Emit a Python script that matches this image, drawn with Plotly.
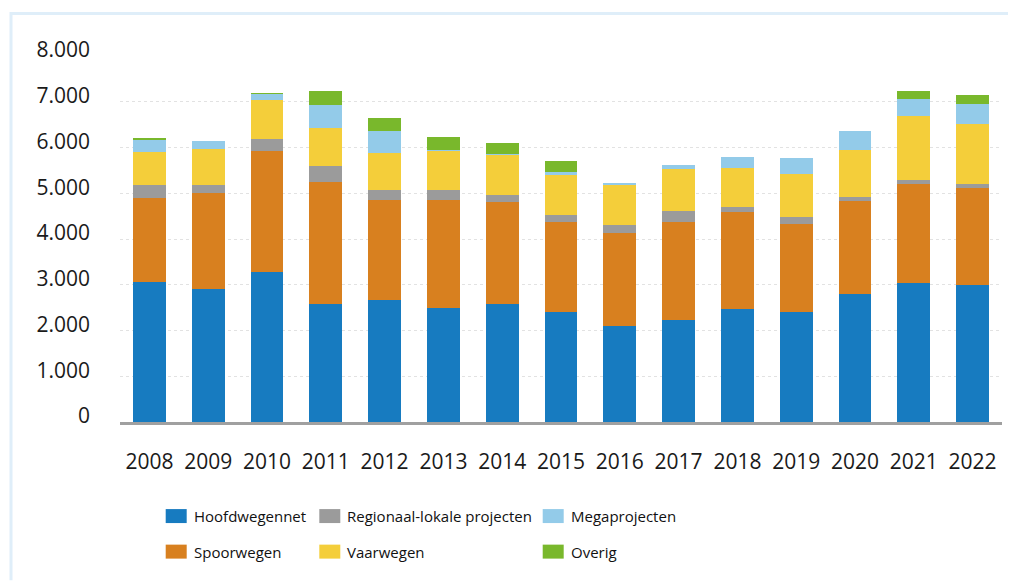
import plotly.graph_objects as go

years = ["2008", "2009", "2010", "2011", "2012", "2013", "2014", "2015",
         "2016", "2017", "2018", "2019", "2020", "2021", "2022"]
hoofdwegennet = [3070, 2910, 3285, 2590, 2670, 2490, 2580, 2410, 2100, 2230, 2470, 2410, 2800, 3030, 2990]
spoorwegen = [1830, 2095, 2640, 2660, 2180, 2370, 2220, 1970, 2040, 2150, 2130, 1910, 2020, 2180, 2130]
regionaal = [275, 175, 260, 340, 230, 220, 170, 150, 160, 240, 90, 170, 90, 90, 90]
vaarwegen = [725, 785, 855, 835, 810, 850, 870, 860, 870, 900, 860, 940, 1040, 1390, 1310]
mega = [255, 175, 130, 495, 480, 20, 20, 80, 60, 100, 250, 330, 420, 370, 430]
overig = [45, 0, 15, 310, 280, 290, 240, 240, 0, 0, 0, 0, 0, 180, 200]

y_ticks = [0, 1000, 2000, 3000, 4000, 5000, 6000, 7000, 8000]
y_tick_labels = ["0", "1.000", "2.000", "3.000", "4.000", "5.000", "6.000", "7.000", "8.000"]

series = [
    ("Hoofdwegennet", hoofdwegennet, "#177bc0"),
    ("Spoorwegen", spoorwegen, "#d8801f"),
    ("Regionaal-lokale projecten", regionaal, "#9b9b9b"),
    ("Vaarwegen", vaarwegen, "#f4ce3a"),
    ("Megaprojecten", mega, "#93cbe9"),
    ("Overig", overig, "#79b82c"),
]

# page body has an 8px default margin; lay out in page coordinates minus OFF
OFF = 8
W, H = 1016 - OFF, 581 - OFF
PLOT_L, PLOT_R, PLOT_T, PLOT_B = 120, 1002, 56, 422.5   # page pixels
ML = PLOT_L - OFF
MR = W - (PLOT_R - OFF)
MT = PLOT_T - OFF
MB = H - (PLOT_B - OFF)
PW = W - ML - MR
PH = H - MT - MB


def px(x):
    return (x - OFF - ML) / PW


def py(y):
    return (H - MB - (y - OFF)) / PH


fig = go.Figure()
for name, vals, col in series:
    fig.add_trace(go.Bar(x=years, y=vals, name=name, marker=dict(color=col, line=dict(width=0)),
                         showlegend=False))

TICK_FONT = dict(family="Open Sans, sans-serif", size=21, color="#1a1a1a")
LEG_FONT = dict(family="Open Sans, sans-serif", size=15, color="#111111")

shapes = []
annotations = []
# frame lines (top & left)
shapes.append(dict(type="line", xref="paper", yref="paper", x0=px(11), x1=px(1016), y0=py(13.5), y1=py(13.5),
                   line=dict(color="#dfeef9", width=3)))
shapes.append(dict(type="line", xref="paper", yref="paper", x0=px(11), x1=px(11), y0=py(12), y1=py(581),
                   line=dict(color="#dfeef9", width=3)))

# manual legend grid
legend_layout = [
    ("Hoofdwegennet", "#177bc0", 165.7, 516.7),
    ("Regionaal-lokale projecten", "#9b9b9b", 319.3, 516.7),
    ("Megaprojecten", "#93cbe9", 542.7, 516.7),
    ("Spoorwegen", "#d8801f", 165.7, 552.3),
    ("Vaarwegen", "#f4ce3a", 319.3, 552.3),
    ("Overig", "#79b82c", 542.7, 552.3),
]
for name, col, x0, yc in legend_layout:
    shapes.append(dict(type="rect", xref="paper", yref="paper", x0=px(x0), x1=px(x0 + 21),
                       y0=py(yc + 7), y1=py(yc - 7), fillcolor=col, line=dict(width=0)))
    annotations.append(dict(xref="paper", yref="paper", x=px(x0 + 26), y=py(yc), text=name,
                            showarrow=False, xanchor="left", yanchor="middle", font=LEG_FONT))

fig.update_layout(
    width=W, height=H,
    margin=dict(l=ML, r=MR, t=MT, b=MB, autoexpand=False),
    paper_bgcolor="white", plot_bgcolor="white",
    barmode="stack", bargap=0.44,
    shapes=shapes, annotations=annotations,
    xaxis=dict(showgrid=False, showline=True, linecolor="#a0a0a0", linewidth=3,
               ticks="", tickfont=TICK_FONT, ticklabelstandoff=19, fixedrange=True),
    yaxis=dict(range=[0, 8000], tickvals=y_ticks, ticktext=y_tick_labels, showgrid=True,
               gridcolor="#e2e2e2", griddash="dot", gridwidth=1, zeroline=False, showline=False,
               ticks="", tickfont=TICK_FONT, ticklabelstandoff=29, ticklabelshift=-6),
)

fig.write_html("out.html")
